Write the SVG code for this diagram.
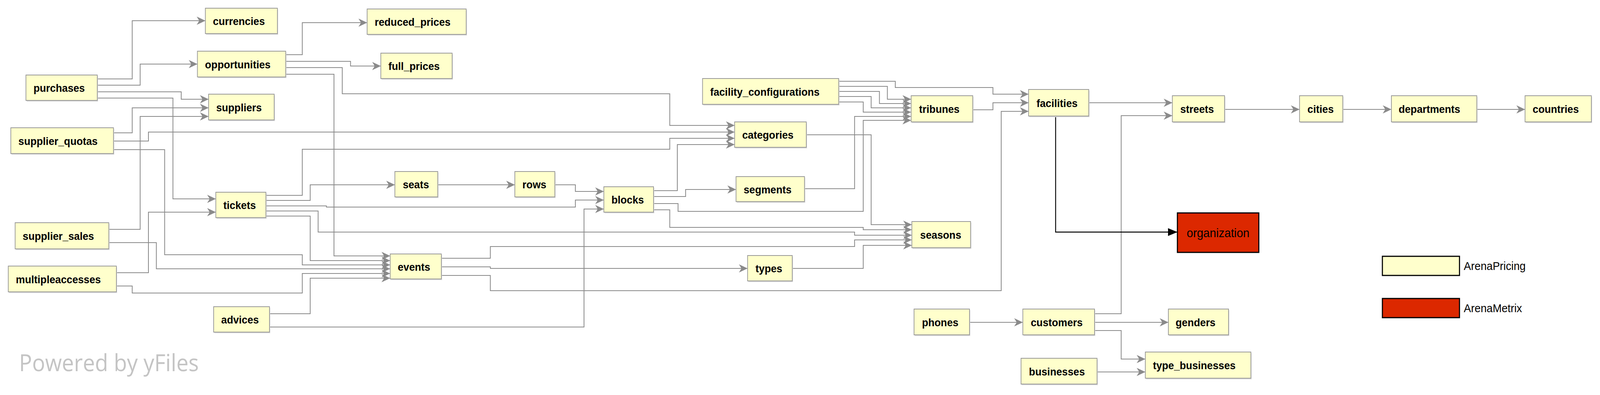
<svg xmlns="http://www.w3.org/2000/svg" width="4441" height="1011" viewBox="0 0 4441 1011" preserveAspectRatio="none" style="max-width:100vw">
<style>
.sh{fill:#dadada}
.b{fill:#ffffcc;stroke:#999999;stroke-width:2}
.t{font-family:"Liberation Sans",Arial,sans-serif;font-weight:bold;font-size:28.5px;fill:#000}
.e{fill:none;stroke:#8a8a8a;stroke-width:2.2;marker-end:url(#arr)}
.k{fill:none;stroke:#000;stroke-width:2.5;marker-end:url(#arrk)}
.lg{font-family:"Liberation Sans",Arial,sans-serif;font-size:30px;fill:#000}
</style>
<defs>
<marker id="arr" markerUnits="userSpaceOnUse" markerWidth="26" markerHeight="24" viewBox="-25 -12 26 24" refX="0" refY="0" orient="auto">
<path d="M0,0 L-24,-10.5 L-17,0 L-24,10.5 Z" fill="#8a8a8a"/>
</marker>
<marker id="arrk" markerUnits="userSpaceOnUse" markerWidth="30" markerHeight="24" viewBox="-28 -12 30 24" refX="0" refY="0" orient="auto">
<path d="M0,0 L-26,-10 L-26,10 Z" fill="#000"/>
</marker>
</defs>
<rect width="4441" height="1011" fill="#ffffff"/>

<g id="connectors">
<polyline class="e" points="270,202 367,202 367,53 570,53"/>
<polyline class="e" points="270,218 389,218 389,164 548,164"/>
<polyline class="e" points="270,235 503,235 503,254 579,254"/>
<polyline class="e" points="270,251 480,251 480,509 599,509"/>
<polyline class="e" points="793,140 839,140 839,58 1019,58"/>
<polyline class="e" points="793,157 973,157 973,169 1057,169"/>
<polyline class="e" points="793,173 950,173 950,240 1859,240 1859,321 2039,321"/>
<polyline class="e" points="793,190 927,190 927,655 1083,655"/>
<polyline class="e" points="315,340 367,340 367,276 579,276"/>
<polyline class="e" points="315,361 412,361 412,338 2039,338"/>
<polyline class="e" points="315,383 457,383 457,652 839,652 839,678 1083,678"/>
<polyline class="e" points="302,587 389,587 389,298 579,298"/>
<polyline class="e" points="302,621 434,621 434,688 1083,688"/>
<polyline class="e" points="323,698 412,698 412,543 599,543"/>
<polyline class="e" points="323,732 367,732 367,750 839,750 839,700 1083,700"/>
<polyline class="e" points="748,803 861,803 861,712 1083,712"/>
<polyline class="e" points="748,837 1621,837 1621,535 1676,535"/>
<polyline class="e" points="738,500 839,500 839,382 1859,382 1859,354 2039,354"/>
<polyline class="e" points="738,513 861,513 861,473 1096,473"/>
<polyline class="e" points="738,527 906,527 906,530 1597,530 1597,512 1676,512"/>
<polyline class="e" points="738,540 883,540 883,594 2372,594 2372,602 2531,602"/>
<polyline class="e" points="738,553 861,553 861,667 1083,667"/>
<polyline class="e" points="1215,473 1429,473"/>
<polyline class="e" points="1540,473 1597,473 1597,490 1676,490"/>
<polyline class="e" points="1814,488 1880,488 1880,370 2039,370"/>
<polyline class="e" points="1814,503 1903,503 1903,485 2043,485"/>
<polyline class="e" points="1814,521 1882,521 1882,541 2396,541 2396,308 2529,308"/>
<polyline class="e" points="1814,537 1859,537 1859,582 2396,582 2396,588 2531,588"/>
<polyline class="e" points="1225,661 1361,661 1361,631 2372,631 2372,614 2531,614"/>
<polyline class="e" points="1225,683 1361,683 1361,687 2075,687"/>
<polyline class="e" points="1225,705 1361,705 1361,744 2779,744 2779,285 2855,285"/>
<polyline class="e" points="2199,687 2396,687 2396,628 2531,628"/>
<polyline class="e" points="2238,345 2418,345 2418,575 2531,575"/>
<polyline class="e" points="2233,483 2372,483 2372,298 2529,298"/>
<polyline class="e" points="2328,208 2485,208 2485,224 2756,224 2756,241 2855,241"/>
<polyline class="e" points="2328,221 2463,221 2463,254 2529,254"/>
<polyline class="e" points="2328,234 2441,234 2441,265 2529,265"/>
<polyline class="e" points="2328,247 2418,247 2418,276 2529,276"/>
<polyline class="e" points="2328,261 2396,261 2396,287 2529,287"/>
<polyline class="e" points="2700,281 2756,281 2756,263 2855,263"/>
<polyline class="e" points="3022,263 3254,263"/>
<polyline class="e" points="3038,803 3112,803 3112,296 3254,296"/>
<polyline class="k" points="2930,297 2930,594 3268,594"/>
<polyline class="e" points="3399,280 3607,280"/>
<polyline class="e" points="3727,280 3862,280"/>
<polyline class="e" points="4099,280 4233,280"/>
<polyline class="e" points="2691,825 2839,825"/>
<polyline class="e" points="3038,825 3243,825"/>
<polyline class="e" points="3038,846 3112,846 3112,919 3179,919"/>
<polyline class="e" points="3045,952 3179,952"/>
</g>

<g id="n-currencies"><rect class="sh" x="572" y="24" width="200" height="65"/><rect class="b" x="570" y="21" width="200" height="65"/><text class="t" x="591" y="64.5">currencies</text></g>
<g id="n-reduced_prices"><rect class="sh" x="1021" y="26" width="275" height="65"/><rect class="b" x="1019" y="23" width="275" height="65"/><text class="t" x="1040" y="66.5">reduced_prices</text></g>
<g id="n-opportunities"><rect class="sh" x="550" y="134" width="245" height="66"/><rect class="b" x="548" y="131" width="245" height="66"/><text class="t" x="569" y="175">opportunities</text></g>
<g id="n-full_prices"><rect class="sh" x="1059" y="139" width="198" height="65"/><rect class="b" x="1057" y="136" width="198" height="65"/><text class="t" x="1078" y="179.5">full_prices</text></g>
<g id="n-purchases"><rect class="sh" x="74" y="195" width="198" height="65"/><rect class="b" x="72" y="192" width="198" height="65"/><text class="t" x="93" y="235.5">purchases</text></g>
<g id="n-suppliers"><rect class="sh" x="581" y="244" width="182" height="66"/><rect class="b" x="579" y="241" width="182" height="66"/><text class="t" x="600" y="285">suppliers</text></g>
<g id="n-supplier_quotas"><rect class="sh" x="32" y="330" width="285" height="66"/><rect class="b" x="30" y="327" width="285" height="66"/><text class="t" x="51" y="371">supplier_quotas</text></g>
<g id="n-tickets"><rect class="sh" x="601" y="495" width="139" height="65"/><rect class="b" x="599" y="492" width="139" height="65"/><text class="t" x="620" y="535.5">tickets</text></g>
<g id="n-seats"><rect class="sh" x="1098" y="442" width="119" height="65"/><rect class="b" x="1096" y="439" width="119" height="65"/><text class="t" x="1118" y="482.5">seats</text></g>
<g id="n-rows"><rect class="sh" x="1431" y="442" width="111" height="65"/><rect class="b" x="1429" y="439" width="111" height="65"/><text class="t" x="1450" y="482.5">rows</text></g>
<g id="n-blocks"><rect class="sh" x="1678" y="481" width="138" height="65"/><rect class="b" x="1676" y="478" width="138" height="65"/><text class="t" x="1697" y="521.5">blocks</text></g>
<g id="n-supplier_sales"><rect class="sh" x="44" y="573" width="260" height="67"/><rect class="b" x="42" y="570" width="260" height="67"/><text class="t" x="63" y="614.5">supplier_sales</text></g>
<g id="n-multipleaccesses"><rect class="sh" x="25" y="684" width="300" height="66"/><rect class="b" x="23" y="681" width="300" height="66"/><text class="t" x="44" y="725">multipleaccesses</text></g>
<g id="n-events"><rect class="sh" x="1085" y="653" width="142" height="64"/><rect class="b" x="1083" y="650" width="142" height="64"/><text class="t" x="1104" y="693">events</text></g>
<g id="n-advices"><rect class="sh" x="595" y="788" width="155" height="65"/><rect class="b" x="593" y="785" width="155" height="65"/><text class="t" x="614" y="828.5">advices</text></g>
<g id="n-facility_configurations"><rect class="sh" x="1952" y="204" width="378" height="66"/><rect class="b" x="1950" y="201" width="378" height="66"/><text class="t" x="1971" y="245">facility_configurations</text></g>
<g id="n-categories"><rect class="sh" x="2041" y="315" width="199" height="65"/><rect class="b" x="2039" y="312" width="199" height="65"/><text class="t" x="2060" y="355.5">categories</text></g>
<g id="n-segments"><rect class="sh" x="2045" y="455" width="190" height="64"/><rect class="b" x="2043" y="452" width="190" height="64"/><text class="t" x="2064" y="495">segments</text></g>
<g id="n-types"><rect class="sh" x="2077" y="657" width="124" height="65"/><rect class="b" x="2075" y="654" width="124" height="65"/><text class="t" x="2097" y="697.5">types</text></g>
<g id="n-tribunes"><rect class="sh" x="2531" y="248" width="171" height="67"/><rect class="b" x="2529" y="245" width="171" height="67"/><text class="t" x="2551" y="289.5">tribunes</text></g>
<g id="n-facilities"><rect class="sh" x="2857" y="232" width="167" height="68"/><rect class="b" x="2855" y="229" width="167" height="68"/><text class="t" x="2877" y="274">facilities</text></g>
<g id="n-seasons"><rect class="sh" x="2533" y="570" width="163" height="67"/><rect class="b" x="2531" y="567" width="163" height="67"/><text class="t" x="2554" y="611.5">seasons</text></g>
<g id="n-streets"><rect class="sh" x="3256" y="248" width="145" height="67"/><rect class="b" x="3254" y="245" width="145" height="67"/><text class="t" x="3276" y="289.5">streets</text></g>
<g id="n-cities"><rect class="sh" x="3609" y="248" width="120" height="67"/><rect class="b" x="3607" y="245" width="120" height="67"/><text class="t" x="3629" y="289.5">cities</text></g>
<g id="n-departments"><rect class="sh" x="3864" y="248" width="237" height="67"/><rect class="b" x="3862" y="245" width="237" height="67"/><text class="t" x="3882" y="289.5">departments</text></g>
<g id="n-countries"><rect class="sh" x="4235" y="248" width="184" height="67"/><rect class="b" x="4233" y="245" width="184" height="67"/><text class="t" x="4254" y="289.5">countries</text></g>
<g id="n-phones"><rect class="sh" x="2539" y="794" width="154" height="66"/><rect class="b" x="2537" y="791" width="154" height="66"/><text class="t" x="2559" y="835">phones</text></g>
<g id="n-customers"><rect class="sh" x="2841" y="794" width="199" height="66"/><rect class="b" x="2839" y="791" width="199" height="66"/><text class="t" x="2861" y="835">customers</text></g>
<g id="n-genders"><rect class="sh" x="3245" y="794" width="167" height="66"/><rect class="b" x="3243" y="791" width="167" height="66"/><text class="t" x="3263" y="835">genders</text></g>
<g id="n-businesses"><rect class="sh" x="2836" y="920" width="211" height="66"/><rect class="b" x="2834" y="917" width="211" height="66"/><text class="t" x="2856" y="961">businesses</text></g>
<g id="n-type_businesses"><rect class="sh" x="3181" y="904" width="293" height="67"/><rect class="b" x="3179" y="901" width="293" height="67"/><text class="t" x="3200" y="945.5">type_businesses</text></g>
<g id="n-organization"><rect x="3268" y="545" width="226" height="101" fill="#dc2800" stroke="#000" stroke-width="3"/><text x="3381" y="607" text-anchor="middle" font-family="Liberation Sans, Arial, sans-serif" font-size="32" fill="#000">organization</text></g>

<g id="legend">
<rect x="3837" y="656" width="214" height="49" fill="#ffffcc" stroke="#000" stroke-width="3"/>
<text class="lg" x="4063" y="691">ArenaPricing</text>
<rect x="3837" y="764" width="214" height="49" fill="#dc2800" stroke="#000" stroke-width="3"/>
<text class="lg" x="4063" y="799">ArenaMetrix</text>
</g>

<text id="watermark" x="53" y="950" font-family="Open Sans, sans-serif" font-size="60" fill="#c4c4c4">Powered by yFiles</text>
</svg>
